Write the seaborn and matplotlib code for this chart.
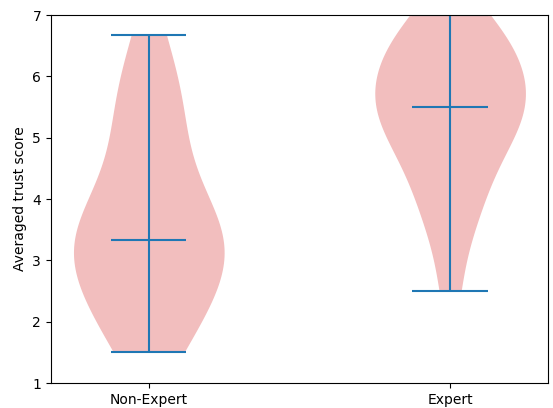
"""
Violin plot of averaged trust scores, non-experts vs experts
"""

import numpy as np
import pandas as pd
import seaborn as sns
import matplotlib

matplotlib.use("Agg")
import matplotlib.pyplot as plt

GROUPS = ["Non-Expert", "Expert"]

# averaged trust scores per participant (steps of 1/6)
NON_EXPERT_SCORES = [
    1.5, 1.67, 2.0, 2.17, 2.5, 2.67, 2.83, 3.0, 3.17, 3.33, 3.33,
    3.5, 3.67, 3.83, 4.17, 4.5, 5.0, 5.33, 5.67, 6.0, 6.67,
]
EXPERT_SCORES = [
    2.5, 3.5, 3.83, 4.17, 4.5, 4.83, 5.0, 5.17, 5.33, 5.5,
    5.5, 5.67, 5.83, 6.0, 6.17, 6.33, 6.5, 6.67, 6.83, 7.0,
]

Y_LABEL = "Averaged trust score"
BODY_COLOR = "#F2BEBE"
LINE_COLOR = "#1f77b4"


def run() -> None:
    df = pd.DataFrame({
        "Group": ["Non-Expert"] * len(NON_EXPERT_SCORES) + ["Expert"] * len(EXPERT_SCORES),
        "Score": NON_EXPERT_SCORES + EXPERT_SCORES,
    })

    fig, ax = plt.subplots(figsize=(5.53, 4.08), dpi=100)
    sns.violinplot(
        data=df, x="Group", y="Score", order=GROUPS, ax=ax,
        inner=None, cut=0, width=0.5, density_norm="width",
        bw_method="scott", color=BODY_COLOR, saturation=1, linewidth=0,
    )

    # extrema and median markers, like matplotlib's violinplot
    stats = df.groupby("Group")["Score"].agg(["min", "max", "median"]).loc[GROUPS]
    pos = np.arange(len(GROUPS))
    ax.vlines(pos, stats["min"], stats["max"], color=LINE_COLOR, linewidth=1.5)
    for col in ["min", "max", "median"]:
        ax.hlines(stats[col], pos - 0.125, pos + 0.125, color=LINE_COLOR, linewidth=1.5)

    ax.set_xlim(-0.325, 1.325)
    ax.set_ylim(1, 7)
    ax.set_xlabel("")
    ax.set_ylabel(Y_LABEL)
    ax.set_xticks(pos)
    ax.set_xticklabels(GROUPS)

    fig.subplots_adjust(left=0.092, right=0.991, top=0.963, bottom=0.061)
    fig.savefig("out.png", dpi=100)


if __name__ == "__main__":
    run()
